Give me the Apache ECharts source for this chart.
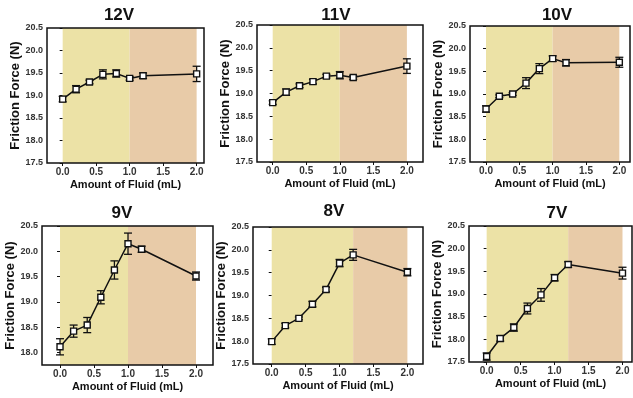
<!DOCTYPE html>
<html>
<head>
<meta charset="utf-8">
<script src="https://cdn.jsdelivr.net/npm/echarts@6/dist/echarts.min.js"></script>
<style>
  html, body { margin: 0; padding: 0; background: #fff; }
  #chart { width: 633px; height: 398px; }
</style>
</head>
<body>
<div id="chart"></div>
<script>
// fluid amounts (mL)
const fluid = [0, 0.2, 0.4, 0.6, 0.8, 1.0, 1.2, 2.0];

const titles = ['12V', '11V', '10V', '9V', '8V', '7V'];

// mean friction force (N) and error half-widths, one pair per voltage
const mean12 = [18.92, 19.14, 19.30, 19.47, 19.49, 19.38, 19.44, 19.48];
const err12  = [0.06, 0.08, 0.04, 0.10, 0.08, 0.04, 0.06, 0.17];
const mean11 = [18.80, 19.03, 19.17, 19.26, 19.38, 19.40, 19.35, 19.60];
const err11  = [0.04, 0.07, 0.04, 0.05, 0.04, 0.08, 0.04, 0.16];
const mean10 = [18.67, 18.95, 19.00, 19.24, 19.56, 19.78, 19.69, 19.70];
const err10  = [0.07, 0.03, 0.03, 0.12, 0.11, 0.06, 0.07, 0.11];
const mean9  = [18.11, 18.42, 18.54, 19.09, 19.63, 20.15, 20.04, 19.51];
const err9   = [0.16, 0.12, 0.15, 0.13, 0.18, 0.21, 0.06, 0.08];
const mean8  = [17.99, 18.34, 18.50, 18.81, 19.13, 19.71, 19.89, 19.51];
const err8   = [0.06, 0.05, 0.03, 0.06, 0.05, 0.08, 0.12, 0.08];
const mean7  = [17.62, 18.02, 18.26, 18.68, 18.98, 19.36, 19.65, 19.46];
const err7   = [0.08, 0.06, 0.08, 0.12, 0.14, 0.07, 0.06, 0.13];

// where the yellow region ends and the orange one starts
const split = [1.0, 1.0, 1.0, 1.0, 1.2, 1.2];
const shadeEnd = 2.0;

const xTicks = [0, 0.5, 1.0, 1.5, 2.0];
const yTicks = [17.5, 18.0, 18.5, 19.0, 19.5, 20.0, 20.5];
const yTicks9 = [18.0, 18.5, 19.0, 19.5, 20.0, 20.5];

const means = [mean12, mean11, mean10, mean9, mean8, mean7];
const errs = [err12, err11, err10, err9, err8, err7];

// panel boxes in px + x extents
const panels = [
  { left: 47,  top: 28,  width: 157, height: 135, xmin: -0.234, xmax: 2.11, ymin: 17.5,  tx: 114, ty: 2 },
  { left: 257, top: 25,  width: 166, height: 137, xmin: -0.234, xmax: 2.24, ymin: 17.5,  tx: 331, ty: 2 },
  { left: 470, top: 26,  width: 160, height: 136, xmin: -0.24,  xmax: 2.16, ymin: 17.5,  tx: 552, ty: 2 },
  { left: 42,  top: 226, width: 171, height: 139, xmin: -0.265, xmax: 2.25, ymin: 17.75, tx: 117, ty: 200 },
  { left: 253, top: 227, width: 170, height: 137, xmin: -0.276, xmax: 2.23, ymin: 17.5,  tx: 329, ty: 198 },
  { left: 469, top: 226, width: 163, height: 136, xmin: -0.26,  xmax: 2.14, ymin: 17.5,  tx: 552, ty: 200 }
];

const font = 'Arial, "Liberation Sans", Helvetica, sans-serif';

const grid = [], xAxis = [], yAxis = [], series = [], title = [];

panels.forEach((p, i) => {
  grid.push({
    left: p.left, top: p.top, width: p.width, height: p.height,
    show: true, borderColor: '#111', borderWidth: 1.5,
    backgroundColor: 'transparent', z: 10
  });
  title.push({
    text: titles[i], left: p.tx, top: p.ty, textAlign: 'center',
    textStyle: { fontFamily: font, fontWeight: 'bold', fontSize: 17, color: '#111' }
  });
  xAxis.push({
    type: 'value', gridIndex: i, min: p.xmin, max: p.xmax,
    name: 'Amount of Fluid (mL)', nameLocation: 'middle', nameGap: 16,
    nameTextStyle: { fontFamily: font, fontWeight: 'bold', fontSize: 11, color: '#111' },
    axisLine: { show: false },
    axisTick: { show: true, length: 3, customValues: xTicks, lineStyle: { color: '#111' } },
    axisLabel: {
      customValues: xTicks, margin: 4, formatter: v => v.toFixed(1),
      fontFamily: font, fontWeight: 'bold', fontSize: 10, color: '#333'
    },
    splitLine: { show: false }
  });
  const yt = p.ymin === 17.5 ? yTicks : yTicks9;
  yAxis.push({
    type: 'value', gridIndex: i, min: p.ymin, max: 20.5,
    name: 'Friction Force (N)', nameLocation: 'middle', nameGap: 21,
    nameTextStyle: { fontFamily: font, fontWeight: 'bold', fontSize: 13, color: '#111' },
    axisLine: { show: false },
    axisTick: { show: true, length: 3, customValues: yt, lineStyle: { color: '#111' } },
    axisLabel: {
      customValues: yt, margin: 4, formatter: v => v.toFixed(1),
      fontFamily: font, fontWeight: 'bold', fontSize: 9, color: '#333'
    },
    splitLine: { show: false }
  });

  // shaded regions
  series.push({
    type: 'line', xAxisIndex: i, yAxisIndex: i, data: [], z: 1,
    silent: true,
    markArea: {
      silent: true,
      data: [
        [{ xAxis: 0, itemStyle: { color: '#ece2a6' } }, { xAxis: split[i] }],
        [{ xAxis: split[i], itemStyle: { color: '#e8cba8' } }, { xAxis: shadeEnd }]
      ]
    }
  });

  // error bars
  series.push({
    type: 'custom', xAxisIndex: i, yAxisIndex: i, z: 3, silent: true,
    data: fluid.map((x, k) => [x, means[i][k] - errs[i][k], means[i][k] + errs[i][k]]),
    encode: { x: 0, y: [1, 2] },
    renderItem: (params, api) => {
      const lo = api.coord([api.value(0), api.value(1)]);
      const hi = api.coord([api.value(0), api.value(2)]);
      const w = 4;
      const st = { stroke: '#111', lineWidth: 1.3 };
      return {
        type: 'group',
        children: [
          { type: 'line', shape: { x1: lo[0], y1: lo[1], x2: hi[0], y2: hi[1] }, style: st },
          { type: 'line', shape: { x1: lo[0] - w, y1: lo[1], x2: lo[0] + w, y2: lo[1] }, style: st },
          { type: 'line', shape: { x1: hi[0] - w, y1: hi[1], x2: hi[0] + w, y2: hi[1] }, style: st }
        ]
      };
    }
  });

  // mean line with open squares
  series.push({
    type: 'line', xAxisIndex: i, yAxisIndex: i, z: 4,
    data: fluid.map((x, k) => [x, means[i][k]]),
    symbol: 'rect', symbolSize: 6, showAllSymbol: true,
    lineStyle: { color: '#111', width: 1.5 },
    itemStyle: { color: '#fff', borderColor: '#111', borderWidth: 1.4 }
  });
});

const chart = echarts.init(document.getElementById('chart'), null, { renderer: 'canvas' });
chart.setOption({
  backgroundColor: '#fff',
  animation: false,
  title, grid, xAxis, yAxis, series
});
</script>
</body>
</html>
